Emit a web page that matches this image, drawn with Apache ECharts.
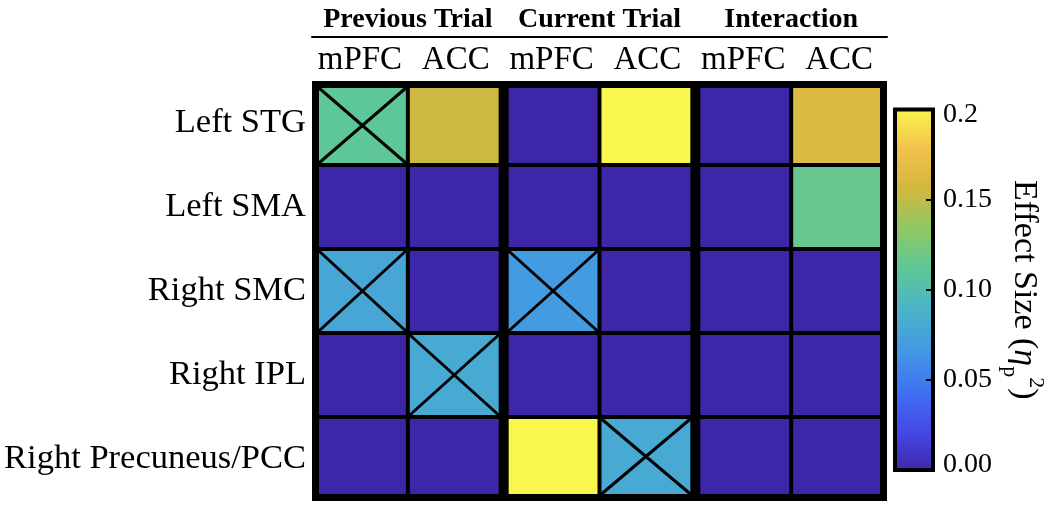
<!DOCTYPE html>
<html>
<head>
<meta charset="utf-8">
<script src="https://cdn.jsdelivr.net/npm/echarts@6/dist/echarts.min.js"></script>
<style>
  html, body { margin: 0; padding: 0; background: #fff; }
  #chart { width: 1050px; height: 508px; }
</style>
</head>
<body>
<div id="chart"></div>
<script>
const columnLabels = ['mPFC', 'ACC', 'mPFC', 'ACC', 'mPFC', 'ACC']
const groupLabels = ['Previous Trial', 'Current Trial', 'Interaction']
const regions = ['Left STG', 'Left SMA', 'Right SMC', 'Right IPL', 'Right Precuneus/PCC']

// effect size per region (rows) x condition/ROI (columns)
const effectSize = [
  [0.111, 0.154, 0, 0.2, 0, 0.163],
  [0, 0, 0, 0, 0, 0.116],
  [0.078, 0, 0.068, 0, 0, 0],
  [0, 0.08, 0, 0, 0, 0],
  [0, 0, 0.2, 0.08, 0, 0]
]
// cells marked with a cross
const crossed = [
  [1, 0, 0, 0, 0, 0],
  [0, 0, 0, 0, 0, 0],
  [1, 0, 1, 0, 0, 0],
  [0, 1, 0, 0, 0, 0],
  [0, 0, 0, 1, 0, 0]
]
const scaleTickLabels = ['0.00', '0.05', '0.10', '0.15', '0.2']

// parula-like colour stops (low -> high)
const parula = ['#3d27a8', '#4648e6', '#3f72f2', '#4399e4', '#4bb3c8',
  '#5dc79a', '#8ec864', '#d2b83e', '#f3c24c', '#f9f74e']

const font = 'Liberation Serif, Times New Roman, serif'

const cells = []
effectSize.forEach((row, r) => {
  row.forEach((v, c) => {
    cells.push([c, r, v, crossed[r][c]])
  })
})

const renderCell = (params, api) => {
  const col = api.value(0)
  const row = api.value(1)
  const center = api.coord([col, row])
  const size = api.size([1, 1])
  const padL = col === 0 ? 7 : (col % 2 === 0 ? 5 : 2)
  const padR = col === 5 ? 7 : (col % 2 === 1 ? 5 : 2)
  const padT = row === 0 ? 7 : 2
  const padB = row === 4 ? 7 : 2
  const x0 = center[0] - size[0] / 2 + padL
  const x1 = center[0] + size[0] / 2 - padR
  const y0 = center[1] - size[1] / 2 + padT
  const y1 = center[1] + size[1] / 2 - padB
  const children = [{
    type: 'rect',
    shape: { x: x0, y: y0, width: x1 - x0, height: y1 - y0 },
    style: { fill: api.visual('color') }
  }]
  if (api.value(3)) {
    children.push({
      type: 'line',
      shape: { x1: x0, y1: y0, x2: x1, y2: y1 },
      style: { stroke: '#000', lineWidth: 3 }
    }, {
      type: 'line',
      shape: { x1: x0, y1: y1, x2: x1, y2: y0 },
      style: { stroke: '#000', lineWidth: 3 }
    })
  }
  return { type: 'group', children }
}

const chart = echarts.init(document.getElementById('chart'))

chart.setOption({
  animation: false,
  backgroundColor: '#fff',
  grid: [
    {
      left: 312, top: 81, width: 575, height: 420, outerBoundsMode: 'none',
      show: true, backgroundColor: '#000', borderWidth: 0
    },
    {
      left: 895, top: 109.5, width: 38, height: 360.5, outerBoundsMode: 'none', show: true,
      borderColor: '#000', borderWidth: 4,
      backgroundColor: new echarts.graphic.LinearGradient(0, 1, 0, 0,
        parula.map((c, i) => ({ offset: i / (parula.length - 1), color: c })))
    }
  ],
  visualMap: {
    show: false,
    type: 'continuous',
    min: 0,
    max: 0.2,
    dimension: 2,
    seriesIndex: 0,
    inRange: { color: parula }
  },
  xAxis: [
    {
      type: 'category', gridIndex: 0, data: columnLabels, position: 'top',
      axisLine: { show: false }, axisTick: { show: false }, splitLine: { show: false },
      axisLabel: { interval: 0, color: '#000', fontSize: 33, fontFamily: font, margin: 4 }
    },
    {
      type: 'category', gridIndex: 0, data: groupLabels, position: 'top', offset: 44,
      axisLine: { show: true, lineStyle: { color: '#000', width: 2 } },
      axisTick: { show: false }, splitLine: { show: false },
      axisLabel: { interval: 0, color: '#000', fontSize: 28, fontWeight: 'bold', fontFamily: font, margin: 3 }
    },
    { type: 'value', gridIndex: 1, show: false, min: 0, max: 1 }
  ],
  yAxis: [
    {
      type: 'category', gridIndex: 0, data: regions, inverse: true,
      axisLine: { show: false }, axisTick: { show: false }, splitLine: { show: false },
      axisLabel: { interval: 0, color: '#000', fontSize: 34.5, fontFamily: font, margin: 6 }
    },
    {
      type: 'value', gridIndex: 1, position: 'right', min: 0, max: 0.2, interval: 0.05,
      axisLine: { show: false, onZero: false },
      axisTick: { show: true, inside: true, length: 7, lineStyle: { color: '#000', width: 2 } },
      splitLine: { show: false },
      axisLabel: {
        color: '#000', fontSize: 28, fontFamily: font, margin: 10,
        formatter: (v, i) => {
          const t = scaleTickLabels[Math.round(v / 0.05)]
          if (i === 0) return '{lo|' + t + '}'
          if (i === scaleTickLabels.length - 1) return '{hi|' + t + '}'
          return t
        },
        rich: {
          lo: { fontSize: 28, fontFamily: font, color: '#000', padding: [0, 0, 10, 0] },
          hi: { fontSize: 28, fontFamily: font, color: '#000', padding: [10, 0, 0, 0] }
        }
      },
      name: '{a|Effect Size (}{e|η}{s|p}{u|2}{a|)}',
      nameLocation: 'middle',
      nameRotate: -90,
      nameGap: 74,
      nameTextStyle: {
        color: '#000', fontSize: 34, fontFamily: font,
        rich: {
          a: { fontSize: 34, fontFamily: font, color: '#000' },
          e: { fontSize: 34, fontFamily: font, fontStyle: 'italic', color: '#000' },
          s: { fontSize: 22, fontFamily: font, color: '#000', verticalAlign: 'bottom', padding: [0, 0, -8, 0] },
          u: { fontSize: 22, fontFamily: font, color: '#000', verticalAlign: 'top', padding: [-6, 0, 0, 0] }
        }
      }
    }
  ],
  series: [
    {
      type: 'custom',
      xAxisIndex: 0,
      yAxisIndex: 0,
      data: cells,
      encode: { x: 0, y: 1 },
      renderItem: renderCell
    }
  ]
})
</script>
</body>
</html>
